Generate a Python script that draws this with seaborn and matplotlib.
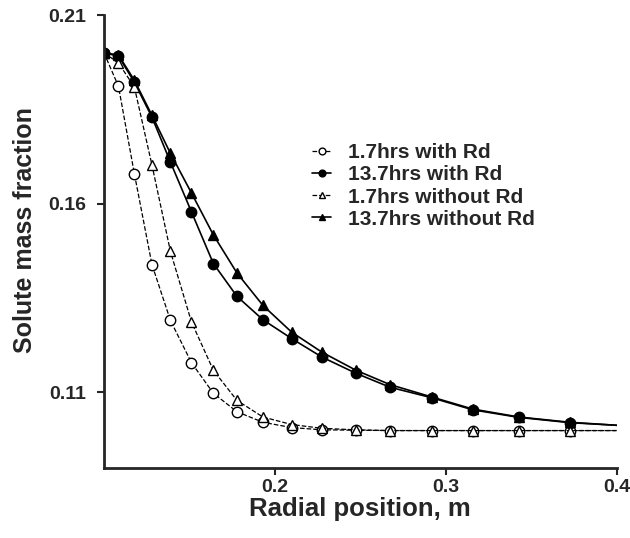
import numpy as np
import pandas as pd
import matplotlib
matplotlib.use("Agg")
import matplotlib.pyplot as plt
import seaborn as sns

# radial grid (m), last node at 0.4 carries no marker
radial_pos = [0.1, 0.1085, 0.1178, 0.1281, 0.1389, 0.1512, 0.1640, 0.1778, 0.1930,
              0.2098, 0.2275, 0.2474, 0.2673, 0.2918, 0.3158, 0.3427, 0.3725, 0.4]

# solute mass fraction for each case
short_with_rd = [0.200, 0.1911, 0.1679, 0.1438, 0.1290, 0.1178, 0.1097, 0.1048, 0.1020,
                 0.1006, 0.1000, 0.0999, 0.0998, 0.0998, 0.0998, 0.0998, 0.0998, 0.0998]
long_with_rd = [0.200, 0.1991, 0.1922, 0.1829, 0.1710, 0.1578, 0.1441, 0.1354, 0.1292,
                0.1242, 0.1193, 0.1150, 0.1113, 0.1085, 0.1053, 0.1033, 0.1019, 0.1012]
short_without_rd = [0.200, 0.1973, 0.1909, 0.1702, 0.1473, 0.1286, 0.1158, 0.1078, 0.1034,
                    0.1014, 0.1004, 0.1000, 0.0998, 0.0998, 0.0998, 0.0998, 0.0998, 0.0998]
long_without_rd = [0.200, 0.1994, 0.1927, 0.1834, 0.1733, 0.1628, 0.1517, 0.1416, 0.1330,
                   0.1259, 0.1206, 0.1158, 0.1120, 0.1087, 0.1055, 0.1034, 0.1020, 0.1012]

labels = ["1.7hrs with Rd", "13.7hrs with Rd", "1.7hrs without Rd", "13.7hrs without Rd"]

sns.set_style("ticks")
plt.rcParams['font.family'] = ['Liberation Sans', 'DejaVu Sans']
plt.rcParams['font.weight'] = 'bold'

fig = plt.figure(figsize=(6.3, 5.38), dpi=100)
ax = fig.add_axes([0.165, 0.131, 0.814, 0.841])

marks = list(range(len(radial_pos) - 1))
styles = [
    (short_with_rd, "o", "white", "--", 0.9),
    (long_with_rd, "o", "black", "-", 1.2),
    (short_without_rd, "^", "white", "--", 0.9),
    (long_without_rd, "^", "black", "-", 1.2),
]
for (vals, mk, fc, ls, lw), lab in zip(styles, labels):
    sns.lineplot(x=radial_pos, y=vals, ax=ax, sort=False, estimator=None,
                 color="black", linestyle=ls, linewidth=lw, marker=mk,
                 markersize=7.5, markerfacecolor=fc, markeredgecolor="black",
                 markeredgewidth=1.0, markevery=marks, label=lab)

ax.set_xlim(0.1, 0.4)
ax.set_ylim(0.09, 0.21)
ax.set_xticks([0.2, 0.3, 0.4])
ax.set_yticks([0.11, 0.16, 0.21])
ax.set_xticklabels(["0.2", "0.3", "0.4"])
ax.set_yticklabels(["0.11", "0.16", "0.21"])
ax.tick_params(labelsize=14, width=1.5, length=5, direction="out")
ax.tick_params(axis="y", pad=8)
ax.tick_params(axis="x", pad=3)
for lbl in ax.get_xticklabels() + ax.get_yticklabels():
    lbl.set_fontweight("bold")

sns.despine(ax=ax)
for sp in ["left", "bottom"]:
    ax.spines[sp].set_linewidth(2)

ax.set_xlabel("Radial position, m", fontsize=18.5, fontweight="bold", labelpad=1)
ax.set_ylabel("Solute mass fraction", fontsize=18, fontweight="bold")
ax.yaxis.set_label_coords(-0.13, 0.524)

ax.legend(loc="upper left", bbox_to_anchor=(0.39, 0.735), frameon=False,
          handlelength=0.9, handletextpad=0.8, labelspacing=0.15, markerscale=0.65,
          borderaxespad=0, prop={"weight": "bold", "size": 15})

fig.savefig("out.png", dpi=100)
